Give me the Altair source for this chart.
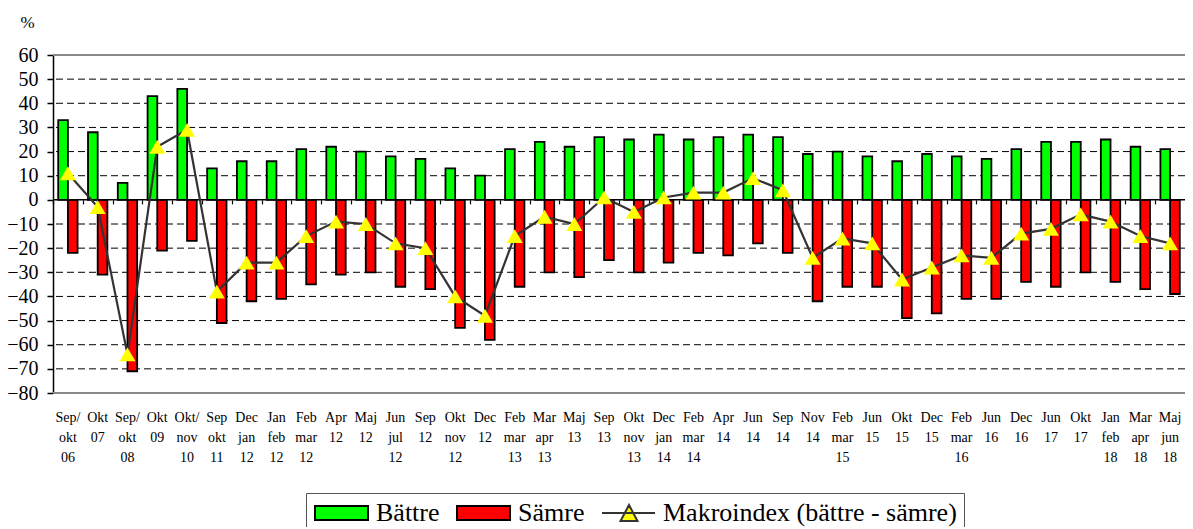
import altair as alt
import pandas as pd

# ---------------- data ----------------
categories = [
    "Sep/|okt|06", "Okt|07", "Sep/|okt|08", "Okt|09", "Okt/|nov|10", "Sep|okt|11",
    "Dec|jan|12", "Jan|feb|12", "Feb|mar|12", "Apr|12", "Maj|12", "Jun|jul|12",
    "Sep|12", "Okt|nov|12", "Dec|12", "Feb|mar|13", "Mar|apr|13", "Maj|13",
    "Sep|13", "Okt|nov|13", "Dec|jan|14", "Feb|mar|14", "Apr|14", "Jun|14",
    "Sep|14", "Nov|14", "Feb|mar|15", "Jun|15", "Okt|15", "Dec|15",
    "Feb|mar|16", "Jun|16", "Dec|16", "Jun|17", "Okt|17", "Jan|feb|18",
    "Mar|apr|18", "Maj|jun|18",
]
battre = [33, 28, 7, 43, 46, 13, 16, 16, 21, 22, 20, 18, 17, 13, 10, 21, 24, 22, 26,
          25, 27, 25, 26, 27, 26, 19, 20, 18, 16, 19, 18, 17, 21, 24, 24, 25, 22, 21]
samre = [-22, -31, -71, -21, -17, -51, -42, -41, -35, -31, -30, -36, -37, -53, -58,
         -36, -30, -32, -25, -30, -26, -22, -23, -18, -22, -42, -36, -36, -49, -47,
         -41, -41, -34, -36, -30, -34, -37, -39]
makroindex = [11, -3, -64, 22, 29, -38, -26, -26, -15, -9, -10, -18, -20, -40, -48,
              -15, -7, -10, 1, -5, 1, 3, 3, 9, 4, -24, -16, -18, -33, -28, -23, -24,
              -14, -12, -6, -9, -15, -18]
series_names = ["Bättre", "Sämre", "Makroindex (bättre - sämre)"]
series_colors = ["#00FF00", "#FF0000", "#FFFF00"]
series_strokes = ["black", "black", "#333333"]
y_ticks = list(range(-80, 61, 10))
grid_values = [v for v in y_ticks if v not in (-80, 0, 60)]
border_values = [60, -80]
zero_value = [0]

n = len(categories)
bars_df = pd.DataFrame({
    "cat": categories * 2,
    "series": [series_names[0]] * n + [series_names[1]] * n,
    "value": battre + samre,
})
idx_df = pd.DataFrame({"cat": categories, "index": makroindex})
grid_df = pd.DataFrame({"v": grid_values})
border_df = pd.DataFrame({"v": border_values})
zero_df = pd.DataFrame({"v": zero_value})
legend_df = pd.DataFrame({"series": series_names})

# ---------------- layout ----------------
FONT = "Liberation Serif"
W, H = 1132, 338
YMIN, YMAX = -80, 60
PI, PO = 0.35, 0.175
step = W / n
zero_offset = -H * (0 - YMIN) / (YMAX - YMIN)

xscale = alt.Scale(domain=categories, paddingInner=PI, paddingOuter=PO)
yscale = alt.Scale(domain=[YMIN, YMAX], nice=False)
color_scale = alt.Scale(domain=series_names, range=series_colors)

# legend symbol shapes (unit = sqrt(symbolSize)/2 px)
BAR_PATH = "M-1.375,-0.875H5.25V0.875H-1.375Z"
IDX_PATH = "M-1.375,0H5.25M2,-1L3.06,1L0.94,1Z"

y_axis = alt.Axis(
    values=y_ticks, title="%", titleAngle=0, titleX=-26, titleY=-33,
    titleAlign="center", titleBaseline="middle", titleFont=FONT, titleFontSize=17,
    titleFontWeight="normal", titleColor="black",
    labelFont=FONT, labelFontSize=20, labelColor="black", labelPadding=9,
    tickSize=6, tickColor="black", tickWidth=1.5,
    domainColor="black", domainWidth=1.5, grid=False)

leg = alt.Legend(
    title=None, orient="none", legendX=253, legendY=438,
    direction="horizontal", strokeColor="#555555", padding=7,
    symbolSize=256, symbolStrokeWidth=2, symbolOpacity=1,
    labelFont=FONT, labelFontSize=26, labelColor="black", labelLimit=500,
    labelOffset=37, columnPadding=13,
)

grid = alt.Chart(grid_df).mark_rule(color="black", strokeWidth=1, strokeDash=[7, 4]).encode(
    y=alt.Y("v:Q", scale=yscale, axis=y_axis)
)
border = alt.Chart(border_df).mark_rule(color="#888888", strokeWidth=2).encode(
    y=alt.Y("v:Q", scale=yscale, axis=y_axis)
)

bars = alt.Chart(bars_df).mark_bar(stroke="black", strokeWidth=1.8).encode(
    x=alt.X("cat:N", scale=xscale, axis=alt.Axis(
        orient="bottom", title=None, labelExpr="split(datum.label, '|')", labelAngle=0,
        labelFont=FONT, labelFontSize=14, labelLineHeight=20, labelPadding=17,
        labelColor="black", ticks=False, domain=False, labelOverlap=False,
        labelBaseline="top")),
    xOffset=alt.XOffset("series:N", scale=alt.Scale(domain=series_names[:2], paddingInner=0, paddingOuter=0)),
    y=alt.Y("value:Q", scale=yscale, axis=y_axis),
    y2=alt.datum(0),
    color=alt.Color("series:N", scale=color_scale, legend=leg),
)

zero = alt.Chart(zero_df).mark_rule(color="black", strokeWidth=1.5).encode(
    y=alt.Y("v:Q", scale=yscale, axis=y_axis)
)

line = alt.Chart(idx_df).mark_line(color="#333333", strokeWidth=2.2).encode(
    x=alt.X("cat:N", scale=xscale, axis=alt.Axis(
        orient="bottom", offset=zero_offset, labels=False, title=None,
        ticks=True, tickSize=4, tickColor="black", tickWidth=1.2,
        bandPosition=0, tickOffset=-step * PI / 2,
        domain=False, grid=False)),
    y=alt.Y("index:Q", scale=yscale, axis=y_axis),
)

points = alt.Chart(idx_df).mark_point(shape="triangle-up", filled=True, color="#FFFF00",
                                      size=256, opacity=1).encode(
    x=alt.X("cat:N", scale=xscale, axis=None),
    y=alt.Y("index:Q", scale=yscale, axis=y_axis),
)

legend_layer = alt.Chart(legend_df).transform_filter("false").mark_point(
    filled=True, strokeWidth=2).encode(
    color=alt.Color("series:N", scale=color_scale, legend=leg),
    shape=alt.Shape("series:N", scale=alt.Scale(domain=series_names, range=[BAR_PATH, BAR_PATH, IDX_PATH]), legend=leg),
    stroke=alt.Stroke("series:N", scale=alt.Scale(domain=series_names, range=series_strokes), legend=leg),
)

chart = alt.layer(grid, border, bars, zero, line, points, legend_layer).resolve_axis(x="independent").properties(
    width=W, height=H,
    padding={"left": 45, "top": 47, "right": 0, "bottom": 134},
    autosize=alt.AutoSizeParams(type="none"),
).configure_view(stroke=None)

chart.save("out.html", embed_options={"renderer": "svg", "actions": False})
